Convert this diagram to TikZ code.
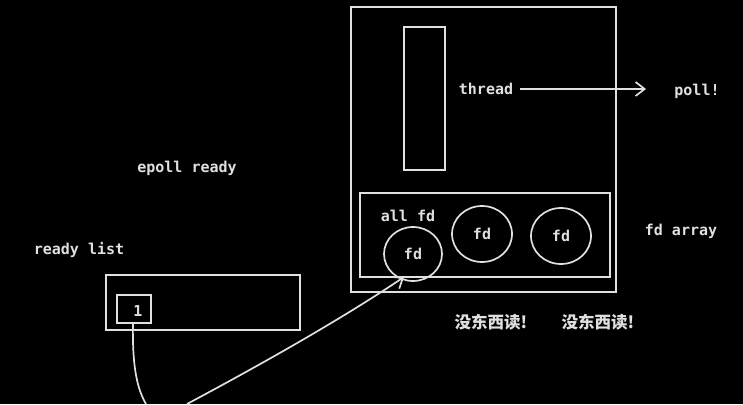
\documentclass[tikz,border=0pt]{standalone}
\usepackage{fontspec}
\setmonofont{DejaVu Sans Mono}
\newfontfamily\cjk{Noto Sans CJK SC}
\usetikzlibrary{arrows.meta}
\definecolor{ink}{HTML}{E0E0E0}
\begin{document}
\begin{tikzpicture}[x=1pt,y=-1pt,
  lbl/.style={text=ink,font=\ttfamily\bfseries\fontsize{15}{17}\selectfont,inner sep=0pt},
  cjklbl/.style={text=ink,font=\cjk\bfseries\fontsize{16.5}{18}\selectfont,inner sep=0pt},
  box/.style={draw=ink,line width=1.7pt},
  wire/.style={draw=ink,line width=1.7pt}]
\fill[black] (0,0) rectangle (743,404);
\useasboundingbox (0,0) rectangle (743,404);
% big box
\draw[box] (351,7) rectangle (616,292);
\node[box,minimum width=41pt,minimum height=143pt,inner sep=0pt] (thr) at (424.5,98.5) {};
\node[lbl] (thread) at (486,89) {thread};
\node[lbl] (poll) at (697,91) {poll!};
\coordinate (pa) at (646,89);
\draw[wire,-{Straight Barb[length=9pt,width=14pt]}] (thread.east) ++(7,0) -- (pa);
% fd array
\draw[box] (360,193) rectangle (610,277);
\node[lbl] (allfd) at (408,216) {all fd};
\draw[box] (413,254) ellipse (29 and 27);
\node[lbl] (fd1) at (413,254) {fd};
\draw[box] (482,234) ellipse (30 and 28);
\node[lbl] (fd2) at (482,234) {fd};
\draw[box] (561,236) ellipse (30 and 28);
\node[lbl] (fd3) at (561,236) {fd};
\coordinate (fd1in) at (404,277);
\node[lbl] (fdarr) at (681,231) {fd array};
\node[cjklbl] (n1) at (491,322) {没东西读!};
\node[cjklbl] (n2) at (598,322) {没东西读!};
% left
\node[lbl] (epr) at (187,168) {epoll ready};
\node[lbl] (rl) at (79,250) {ready list};
\draw[box] (106,275) rectangle (300,330);
\node[box,minimum width=34pt,minimum height=28pt,inner sep=0pt] (one) at (134,309) {};
\node[lbl] (onet) at (138,311) {1};
\coordinate (c1) at (146,404);
\coordinate (c2) at (187,404);
\draw[wire] (133,322) .. controls (132,370) and (138,390) .. (c1);
\draw[wire,-{Straight Barb[length=9pt,width=14pt]}] (c2) .. controls (260,365) and (340,320) .. (fd1in);
\end{tikzpicture}
\end{document}
